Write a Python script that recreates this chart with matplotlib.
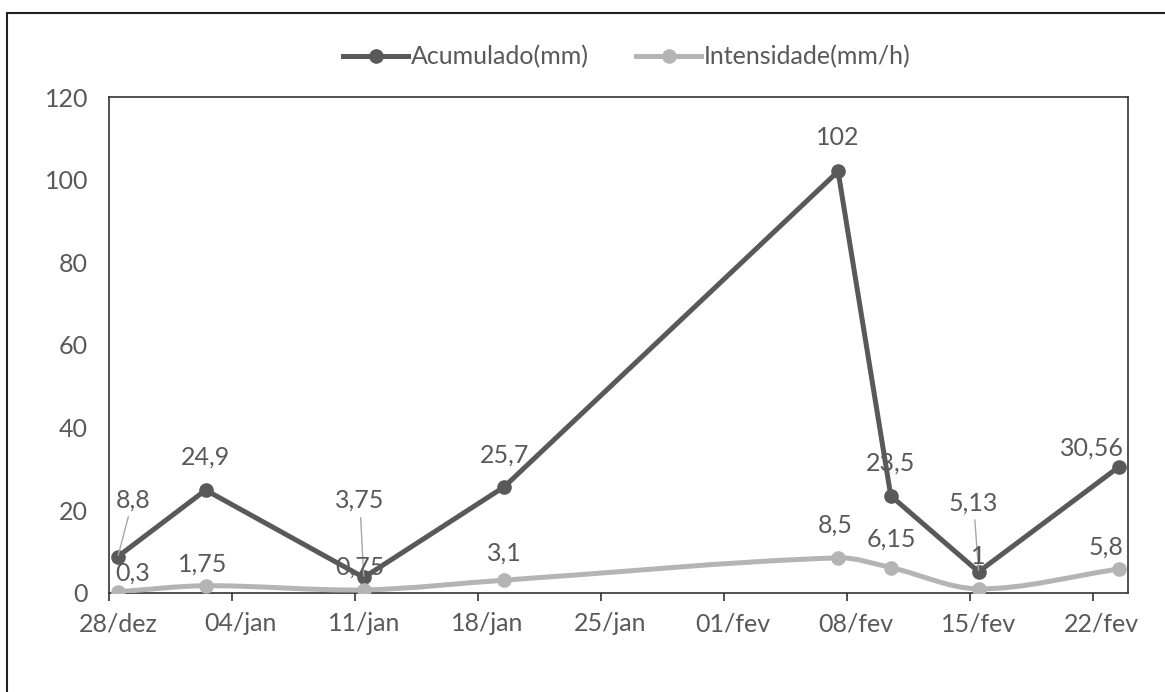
import numpy as np
import pandas as pd
import matplotlib
matplotlib.use("Agg")
import matplotlib.pyplot as plt
import matplotlib.dates as mdates
from matplotlib.path import Path
from matplotlib.patches import PathPatch, Rectangle
from matplotlib.lines import Line2D

# ── Data ──────────────────────────────────────────────────────────────────────
dates = ["2019-12-28", "2020-01-02", "2020-01-11", "2020-01-19",
         "2020-02-07", "2020-02-10", "2020-02-15", "2020-02-23"]
acumulado = [8.8, 24.9, 3.75, 25.7, 102, 23.5, 5.13, 30.56]
intensidade = [0.3, 1.75, 0.75, 3.1, 8.5, 6.15, 1, 5.8]
series_names = ["Acumulado(mm)", "Intensidade(mm/h)"]
y_ticks = [0, 20, 40, 60, 80, 100, 120]
meses = {1: "jan", 2: "fev", 3: "mar", 12: "dez"}

# label offsets (pixels) relative to each point, and which ones get leader lines
acum_offsets = [(15, 57), (0, 33), (-4, 77), (0, 32), (0, 34), (0, 33), (-5, 69), (-27, 19)]
acum_leader = [True, False, True, False, False, False, True, False]
int_offsets = [(15, 19), (-3, 22), (-4, 23), (0, 27), (-3, 33), (1, 28), (0, 32), (-13, 22)]

# ── Style ─────────────────────────────────────────────────────────────────────
DARK = "#595959"
LIGHT = "#B4B4B4"
TEXT = "#595959"
FONT = ["Lato", "DejaVu Sans"]
FS = 18

plt.rcParams.update({
    "font.family": FONT,
    "font.size": FS,
})

fig = plt.figure(figsize=(11.65, 6.92), dpi=100)
ax = fig.add_axes([0.0936, 0.1431, 0.8746, 0.7167])

x = mdates.date2num(pd.to_datetime(dates)) + 0.5  # Excel centres points on the day
start = mdates.date2num(pd.Timestamp("2019-12-28"))
end = mdates.date2num(pd.Timestamp("2020-02-24"))


def smooth_path(xs, ys):
    """Hermite-style bezier through the points (close to Excel's smoothed line)."""
    xs = np.asarray(xs, float)
    ys = np.asarray(ys, float)
    n = len(xs)
    slopes = np.zeros(n)
    for i in range(n):
        a = max(i - 1, 0)
        b = min(i + 1, n - 1)
        slopes[i] = (ys[b] - ys[a]) / (xs[b] - xs[a])
    verts = [(xs[0], ys[0])]
    codes = [Path.MOVETO]
    for i in range(n - 1):
        h = xs[i + 1] - xs[i]
        verts += [(xs[i] + h / 3, ys[i] + slopes[i] * h / 3),
                  (xs[i + 1] - h / 3, ys[i + 1] - slopes[i + 1] * h / 3),
                  (xs[i + 1], ys[i + 1])]
        codes += [Path.CURVE4] * 3
    return Path(verts, codes)


# dark series: straight segments
ax.plot(x, acumulado, color=DARK, lw=3.6, marker="o", ms=9.5, zorder=3,
        solid_capstyle="round")

# light series: smoothed
patch = PathPatch(smooth_path(x, intensidade), facecolor="none", edgecolor=LIGHT,
                  lw=3.6, zorder=4, capstyle="round")
ax.add_patch(patch)
ax.plot(x, intensidade, color=LIGHT, lw=0, marker="o", ms=9.5, zorder=4)

# data labels
for xi, v, (dx, dy), lead in zip(x, acumulado, acum_offsets, acum_leader):
    lbl = f"{v:g}".replace(".", ",")
    if lead:
        ax.annotate(lbl, xy=(xi, v), xytext=(dx, dy), textcoords="offset pixels",
                    ha="center", va="center", color=TEXT, fontsize=FS, zorder=6,
                    arrowprops=dict(arrowstyle="-", color="#A6A6A6", lw=1,
                                    shrinkA=2, shrinkB=1))
    else:
        ax.annotate(lbl, xy=(xi, v), xytext=(dx, dy), textcoords="offset pixels",
                    ha="center", va="center", color=TEXT, fontsize=FS, zorder=6)

for xi, v, (dx, dy) in zip(x, intensidade, int_offsets):
    lbl = f"{v:g}".replace(".", ",")
    ax.annotate(lbl, xy=(xi, v), xytext=(dx, dy), textcoords="offset pixels",
                ha="center", va="center", color=TEXT, fontsize=FS, zorder=6)

# ── Axes ──────────────────────────────────────────────────────────────────────
ax.set_xlim(start, end)
ax.set_ylim(0, 120)
ax.set_yticks(y_ticks)
ax.tick_params(axis="y", length=0, pad=15, labelcolor=TEXT, labelsize=FS)

tick_dates = mdates.date2num(pd.date_range("2019-12-28", "2020-02-22", freq="7D"))
ax.xaxis.set_minor_locator(matplotlib.ticker.FixedLocator(tick_dates))
ax.xaxis.set_major_locator(matplotlib.ticker.FixedLocator(tick_dates + 0.5))


def fmt_date(val, _):
    d = mdates.num2date(val)
    return f"{d.day:02d}/{meses[d.month]}"


ax.xaxis.set_major_formatter(matplotlib.ticker.FuncFormatter(fmt_date))
ax.tick_params(axis="x", which="major", length=0, pad=14, labelcolor=TEXT, labelsize=FS)
ax.tick_params(axis="x", which="minor", length=5.5, width=1.2, color="#333333",
               direction="out")

for s in ax.spines.values():
    s.set_color("#333333")
    s.set_linewidth(1.2)

# ── Legend ────────────────────────────────────────────────────────────────────
handles = [Line2D([], [], color=DARK, lw=3.6, marker="o", ms=9.5),
           Line2D([], [], color=LIGHT, lw=3.6, marker="o", ms=9.5)]
leg = fig.legend(handles, series_names, loc="center", ncol=2,
                 bbox_to_anchor=(627 / 1165, 1 - 57 / 692), frameon=False,
                 handlelength=2.6, handletextpad=0.1, columnspacing=1.9,
                 fontsize=FS)
for t in leg.get_texts():
    t.set_color(TEXT)

# outer chart border
fig.add_artist(Rectangle((7 / 1165, -0.05), 1.2, 1 - 13 / 692 + 0.05,
                         transform=fig.transFigure, fill=False,
                         edgecolor="#222222", lw=1.5))

fig.savefig("out.png", dpi=100)
